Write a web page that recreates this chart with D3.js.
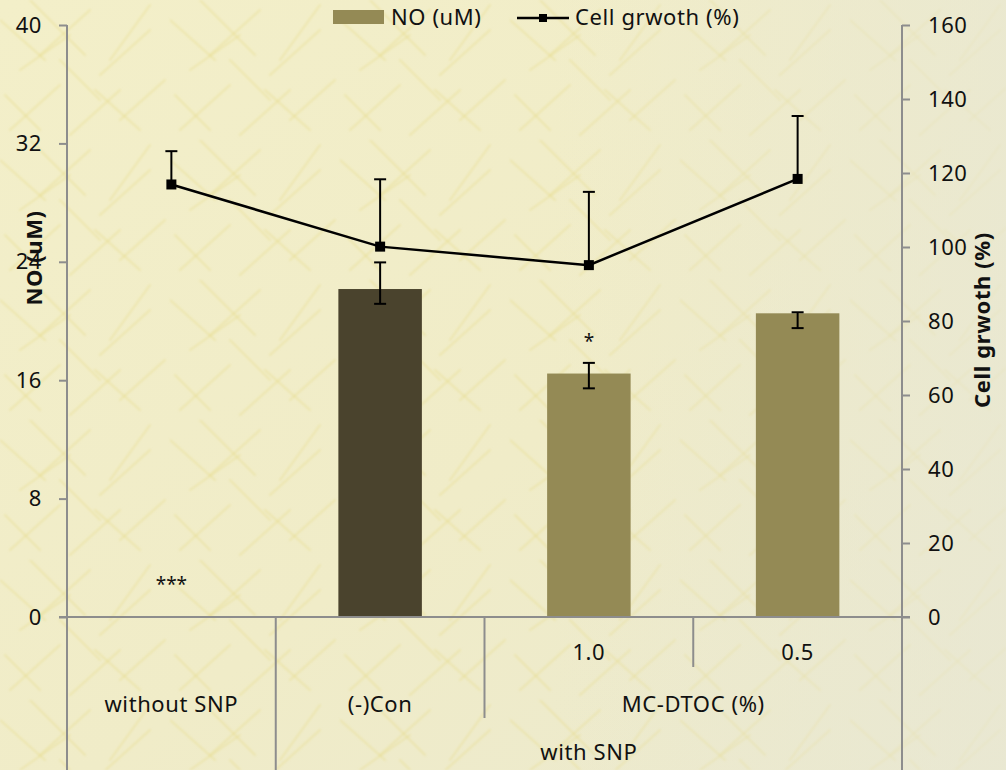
<!DOCTYPE html>
<html>
<head>
<meta charset="utf-8">
<script src="https://cdn.jsdelivr.net/npm/d3@7/dist/d3.min.js"></script>
<style>
  html, body { margin: 0; padding: 0; background: #efedcf; }
  svg { display: block; }
  text { font-family: "Noto Sans", "DejaVu Sans", sans-serif; fill: #111; }
</style>
</head>
<body>
<svg id="chart" width="1006" height="770"></svg>
<script>
// Treatment groups (innermost category level)
const categories = ["without SNP", "(-)Con", "1.0", "0.5"];
const tier1Labels = ["", "", "1.0", "0.5"];
// Second tier: groups of categories [label, firstIndex, lastIndex]
const tier2Groups = [["without SNP", 0, 0], ["(-)Con", 1, 1], ["MC-DTOC (%)", 2, 3]];
// Third tier
const tier3Groups = [["", 0, 0], ["with SNP", 1, 3]];

// NO production (uM) with error bars
const noValues = [0, 22.16, 16.45, 20.52];
const noErrPlus = [0, 1.8, 0.72, 0.07];
const noErrMinus = [0, 1.0, 1.0, 1.0];
const barColors = ["#948a55", "#4a432d", "#948a55", "#948a55"];
const noSignif = ["***", "", "*", ""];

// Cell growth (%) with upper error bars
const growthValues = [116.9, 100.1, 95.1, 118.4];
const growthErrPlus = [9.0, 18.2, 19.8, 17.0];

const leftTicks = [0, 8, 16, 24, 32, 40];
const rightTicks = [0, 20, 40, 60, 80, 100, 120, 140, 160];

const svg = d3.select("#chart");
const W = 1006, H = 770;
const plot = { left: 67, right: 902, top: 25, bottom: 617 };

// ---- textured parchment background ----
const defs = svg.append("defs");
const grad = defs.append("linearGradient").attr("id", "bgGrad")
  .attr("x1", "0").attr("y1", "0").attr("x2", "1").attr("y2", "1");
grad.append("stop").attr("offset", "0").attr("stop-color", "#f3efc9");
grad.append("stop").attr("offset", "0.55").attr("stop-color", "#f0ecc8");
grad.append("stop").attr("offset", "1").attr("stop-color", "#ebe9cf");
const grad2 = defs.append("linearGradient").attr("id", "bgGrad2")
  .attr("x1", "0").attr("y1", "0").attr("x2", "1").attr("y2", "0");
grad2.append("stop").attr("offset", "0.55").attr("stop-color", "#e8e7d3").attr("stop-opacity", 0);
grad2.append("stop").attr("offset", "1").attr("stop-color", "#e8e7d3").attr("stop-opacity", 0.7);

const pat = defs.append("pattern").attr("id", "fibres")
  .attr("width", 170).attr("height", 140).attr("patternUnits", "userSpaceOnUse");
const fibres = [
  [0, 20, 45, 60], [30, 0, 85, 55], [90, 10, 40, 55], [150, 5, 110, 60],
  [10, 130, 60, 85], [70, 135, 120, 90], [120, 120, 165, 80], [5, 95, 40, 130],
  [100, 75, 150, 30], [140, 130, 95, 90], [60, 60, 100, 100], [20, 70, 70, 35]
];
pat.selectAll("line").data(fibres).join("line")
  .attr("x1", d => d[0]).attr("y1", d => d[1])
  .attr("x2", d => d[2]).attr("y2", d => d[3])
  .attr("stroke", "#e6dc8c").attr("stroke-width", 2)
  .attr("stroke-linecap", "round")
  .attr("stroke-opacity", 0.45);
defs.append("filter").attr("id", "soft")
  .append("feGaussianBlur").attr("stdDeviation", 1);

svg.append("rect").attr("width", W).attr("height", H).attr("fill", "url(#bgGrad)");
svg.append("rect").attr("width", W).attr("height", H).attr("fill", "url(#fibres)")
  .attr("filter", "url(#soft)");
svg.append("rect").attr("width", W).attr("height", H).attr("fill", "url(#bgGrad2)");

// ---- scales ----
const x = d3.scaleBand().domain(d3.range(categories.length))
  .range([plot.left, plot.right]).padding(0);
const barW = x.bandwidth() * 0.4;
const cx = i => x(i) + x.bandwidth() / 2;
const yL = d3.scaleLinear().domain([0, 40]).range([plot.bottom, plot.top]);
const yR = d3.scaleLinear().domain([0, 160]).range([plot.bottom, plot.top]);

const axisColor = "#8d8d8d";
const fs = 22;
const ls = "0.6px";

// ---- axes ----
const gL = svg.append("g").attr("transform", `translate(${plot.left},0)`)
  .call(d3.axisLeft(yL).tickValues(leftTicks).tickSize(8).tickPadding(17));
const gR = svg.append("g").attr("transform", `translate(${plot.right},0)`)
  .call(d3.axisRight(yR).tickValues(rightTicks).tickSize(8).tickPadding(18));
[gL, gR].forEach(g => {
  g.select(".domain").attr("stroke", axisColor).attr("stroke-width", 2)
    .attr("d", `M0,${plot.top}V${plot.bottom}`);
  g.selectAll(".tick line").attr("stroke", axisColor).attr("stroke-width", 2);
  g.selectAll(".tick text").style("font-size", fs + "px").style("letter-spacing", ls)
    .style("font-family", "'Noto Sans', sans-serif").attr("fill", "#111");
});

// ---- bars ----
svg.append("g").selectAll("rect").data(noValues).join("rect")
  .attr("x", (d, i) => cx(i) - barW / 2)
  .attr("y", d => yL(d))
  .attr("width", barW)
  .attr("height", d => yL(0) - yL(d))
  .attr("fill", (d, i) => barColors[i]);

// bar error bars
const eb = svg.append("g").attr("stroke", "#000").attr("stroke-width", 2);
noValues.forEach((v, i) => {
  if (noErrPlus[i] === 0 && noErrMinus[i] === 0) return;
  const top = yL(v + noErrPlus[i]), bot = yL(v - noErrMinus[i]), c = cx(i);
  eb.append("line").attr("x1", c).attr("x2", c).attr("y1", top).attr("y2", bot);
  eb.append("line").attr("x1", c - 6).attr("x2", c + 6).attr("y1", top).attr("y2", top);
  eb.append("line").attr("x1", c - 6).attr("x2", c + 6).attr("y1", bot).attr("y2", bot);
});

// significance marks
svg.append("g").selectAll("text").data(noSignif).join("text")
  .attr("x", (d, i) => cx(i))
  .attr("y", (d, i) => noValues[i] === 0 ? yL(0) - 26 : yL(noValues[i] + noErrPlus[i]) - 15)
  .attr("text-anchor", "middle")
  .style("font-size", "19px")
  .text(d => d);

// ---- category axis with tiers ----
const cat = svg.append("g").attr("stroke", axisColor).attr("stroke-width", 2);
cat.append("line").attr("x1", plot.left - 8).attr("x2", plot.right + 8)
  .attr("y1", plot.bottom).attr("y2", plot.bottom);
const tierY = [plot.bottom, 667, 718, 790];
const edgeX = i => x(i);
const endX = i => x(i) + x.bandwidth();
// boundaries: the outer edges run through all tiers
const boundaries = [
  [edgeX(0), 3], [edgeX(1), 3], [edgeX(2), 2], [edgeX(3), 1], [endX(3), 3]
];
boundaries.forEach(([bx, depth]) => {
  cat.append("line").attr("x1", bx).attr("x2", bx)
    .attr("y1", plot.bottom).attr("y2", tierY[depth]);
});

const lab = svg.append("g").style("font-size", fs + "px").style("letter-spacing", ls)
  .attr("text-anchor", "middle");
tier1Labels.forEach((t, i) => {
  if (t) lab.append("text").attr("x", cx(i)).attr("y", 652).attr("dy", "0.35em").text(t);
});
tier2Groups.forEach(([t, a, b]) => {
  lab.append("text").attr("x", (edgeX(a) + endX(b)) / 2).attr("y", 704).attr("dy", "0.35em").text(t);
});
tier3Groups.forEach(([t, a, b]) => {
  if (t) lab.append("text").attr("x", (edgeX(a) + endX(b)) / 2).attr("y", 752).attr("dy", "0.35em").text(t);
});

// ---- cell growth line ----
const ge = svg.append("g").attr("stroke", "#000").attr("stroke-width", 2);
growthValues.forEach((v, i) => {
  const c = cx(i), top = yR(v + growthErrPlus[i]);
  ge.append("line").attr("x1", c).attr("x2", c).attr("y1", yR(v)).attr("y2", top);
  ge.append("line").attr("x1", c - 6).attr("x2", c + 6).attr("y1", top).attr("y2", top);
});
svg.append("path").datum(growthValues)
  .attr("fill", "none").attr("stroke", "#000").attr("stroke-width", 2.5)
  .attr("d", d3.line().x((d, i) => cx(i)).y(d => yR(d)));
svg.append("g").selectAll("rect").data(growthValues).join("rect")
  .attr("x", (d, i) => cx(i) - 5).attr("y", d => yR(d) - 5)
  .attr("width", 10).attr("height", 10).attr("fill", "#000");

// ---- axis titles ----
svg.append("text")
  .attr("transform", "translate(34,258) rotate(-90)")
  .attr("text-anchor", "middle").attr("dy", "0.35em")
  .style("font-size", "22px").style("font-weight", "bold").style("letter-spacing", "0.6px")
  .text("NO (uM)");
svg.append("text")
  .attr("transform", "translate(982,320) rotate(-90)")
  .attr("text-anchor", "middle").attr("dy", "0.35em")
  .style("font-size", "22px").style("font-weight", "bold").style("letter-spacing", "0.6px")
  .text("Cell grwoth (%)");

// ---- legend ----
const leg = svg.append("g").style("font-size", fs + "px").style("letter-spacing", ls);
leg.append("rect").attr("x", 333).attr("y", 10).attr("width", 51).attr("height", 14)
  .attr("fill", barColors[0]);
leg.append("text").attr("x", 391).attr("y", 17).attr("dy", "0.35em").text("NO (uM)");
leg.append("line").attr("x1", 517).attr("x2", 569).attr("y1", 18).attr("y2", 18)
  .attr("stroke", "#000").attr("stroke-width", 2.5);
leg.append("rect").attr("x", 539).attr("y", 14).attr("width", 8).attr("height", 8).attr("fill", "#000");
leg.append("text").attr("x", 575).attr("y", 17).attr("dy", "0.35em").text("Cell grwoth (%)");
</script>
</body>
</html>
